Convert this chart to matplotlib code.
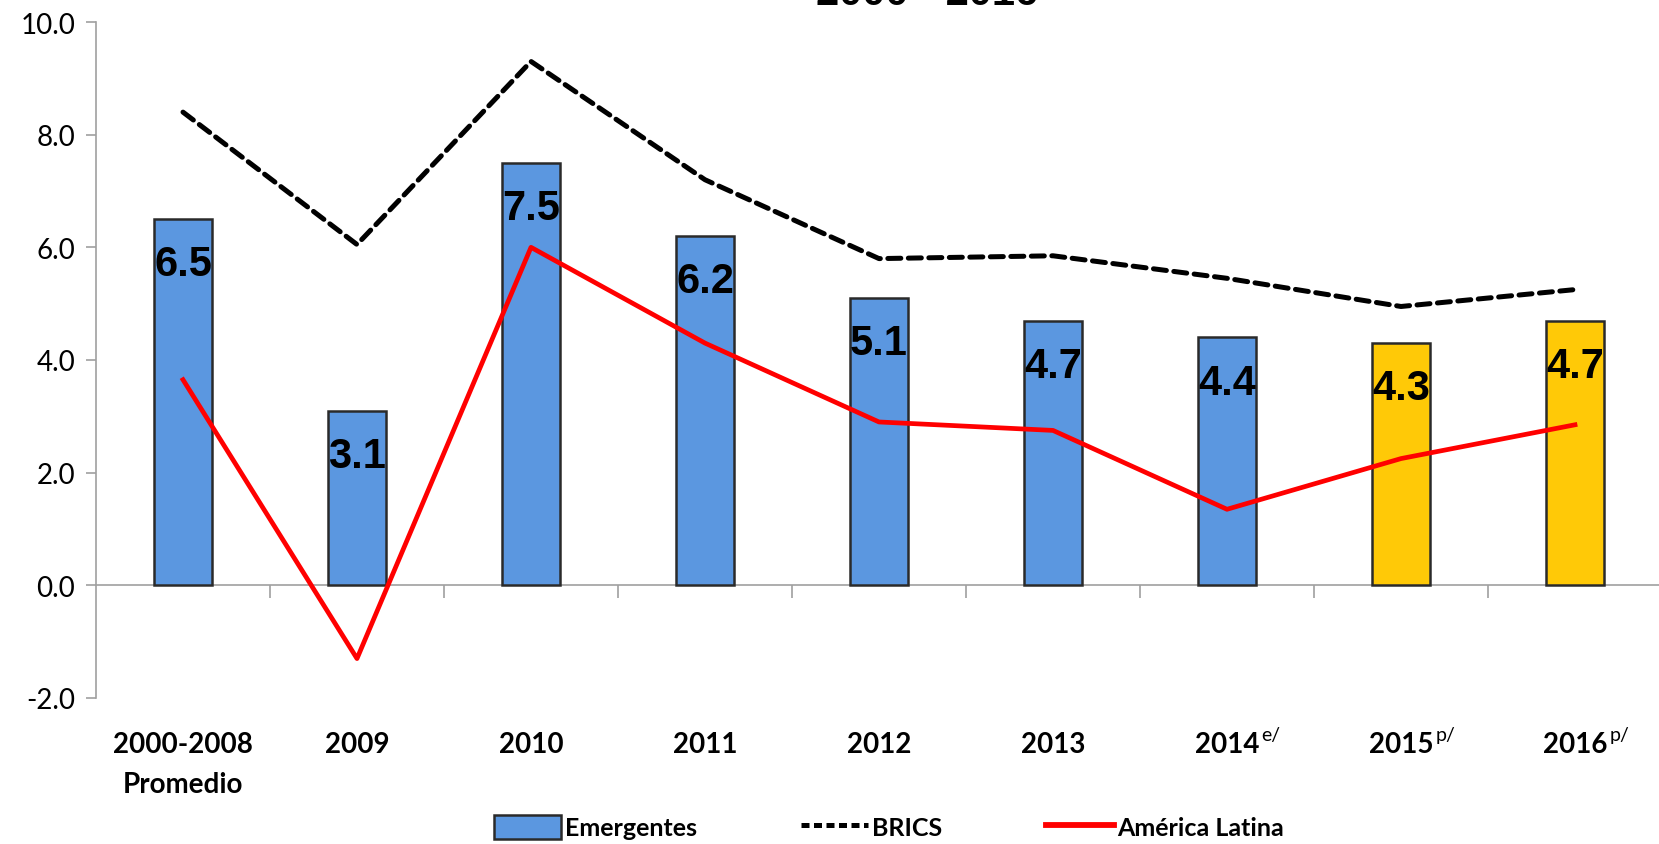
import matplotlib
matplotlib.use("Agg")
import matplotlib.pyplot as plt
from matplotlib.lines import Line2D
from matplotlib.patches import Patch
import matplotlib.transforms as mtransforms

# ---------------- data ----------------
categories = ["2000-2008\nPromedio", "2009", "2010", "2011", "2012", "2013", "2014", "2015", "2016"]
superscripts = ["", "", "", "", "", "", "e/", "p/", "p/"]
emergentes = [6.5, 3.1, 7.5, 6.2, 5.1, 4.7, 4.4, 4.3, 4.7]
brics = [8.4, 6.05, 9.3, 7.2, 5.8, 5.85, 5.45, 4.95, 5.25]
america_latina = [3.65, -1.3, 6.0, 4.3, 2.9, 2.75, 1.35, 2.25, 2.85]
projected = [False, False, False, False, False, False, False, True, True]
yticks = [-2.0, 0.0, 2.0, 4.0, 6.0, 8.0, 10.0]
title = "2000 - 2016"
series_names = ["Emergentes", "BRICS", "América Latina"]

# ---------------- style ----------------
BLUE = "#5B97E0"
YELLOW = "#FFC907"
RED = "#FF0000"
GREY = "#A0A0A0"
NARROW = ["Lato", "DejaVu Sans"]
ARIAL = ["Liberation Sans", "DejaVu Sans"]

fig = plt.figure(figsize=(16.59, 8.45), dpi=100)
ax = fig.add_axes([96 / 1659, 1 - 699 / 845, 1566 / 1659, 676 / 845])

x = list(range(len(categories)))
colors = [YELLOW if p else BLUE for p in projected]
ax.bar(x, emergentes, width=0.33, color=colors, edgecolor="#2A2A2A",
       linewidth=1.8, zorder=2)

ax.plot(x, brics, color="black", linewidth=3.6, dashes=(2.6, 1.5),
        dash_capstyle="round", zorder=3)
ax.plot(x, america_latina, color=RED, linewidth=3.4, zorder=4)

# value labels inside bars
for xi, v in zip(x, emergentes):
    ax.annotate(f"{v:.1f}", xy=(xi, v), xytext=(0, -40.5), textcoords="offset points",
                ha="center", va="baseline", fontsize=30, fontweight="bold",
                family=ARIAL, color="black", zorder=5)

ax.set_xlim(-0.5, len(categories) - 0.5)
ax.set_ylim(-2, 10)

# y axis
ax.set_yticks(yticks)
ax.set_yticklabels([f"{t:.1f}" for t in yticks], fontsize=20, family=NARROW)
ax.tick_params(axis="y", direction="out", length=7, width=1.2, color=GREY, pad=8)
ax.spines["left"].set_color(GREY)
ax.spines["left"].set_linewidth(1.2)
ax.spines["top"].set_visible(False)
ax.spines["right"].set_visible(False)

# category axis crossing at zero
ax.spines["bottom"].set_position(("data", 0))
ax.spines["bottom"].set_color(GREY)
ax.spines["bottom"].set_linewidth(1.2)
ax.spines["bottom"].set_zorder(1)
ax.set_xticks(x)
ax.set_xticklabels([])
ax.tick_params(axis="x", which="major", length=0)
ax.set_xticks([i + 0.5 for i in x[:-1]], minor=True)
ax.tick_params(axis="x", which="minor", direction="out", length=9, width=1.2, color=GREY)

# category labels at bottom
sec = ax.secondary_xaxis(0.0)
sec.set_xticks(x)
sec.set_xticklabels(categories, fontsize=20, fontweight="bold", family=NARROW,
                    linespacing=1.65)
sec.tick_params(axis="x", length=0, pad=24)
sec.spines["bottom"].set_visible(False)

# superscripts
trans = mtransforms.blended_transform_factory(ax.transData, ax.transAxes)
for xi, s in zip(x, superscripts):
    if s:
        ax.annotate(s, xy=(xi, 0), xycoords=trans, xytext=(25, -30),
                    textcoords="offset points", ha="left", va="baseline",
                    fontsize=14, family=NARROW, color="black", annotation_clip=False)

# title (cropped at top as in the reference)
fig.text(927 / 1659, 1 - 5 / 845, title, ha="center", va="baseline",
         fontsize=30, fontweight="bold", family=ARIAL)

# legend
handles = [
    Patch(facecolor=BLUE, edgecolor="#2A2A2A", linewidth=1.8),
    Line2D([], [], color="black", linewidth=3.6, dashes=(1.6, 0.9)),
    Line2D([], [], color=RED, linewidth=4.2),
]
fig.legend(handles, series_names, loc="center", bbox_to_anchor=(889 / 1659, 1 - 828 / 845),
           ncol=3, frameon=False, handlelength=2.7, handleheight=1.1,
           handletextpad=0.15, columnspacing=4.15,
           prop={"family": NARROW, "weight": "bold", "size": 18})

fig.savefig("out.png", dpi=100)
